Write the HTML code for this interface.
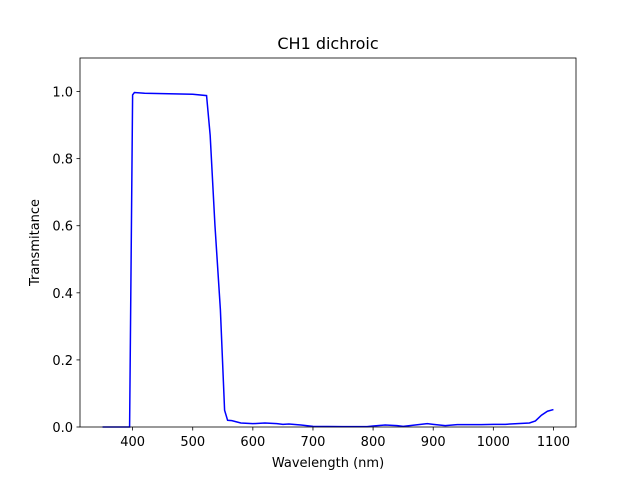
<!DOCTYPE html>
<html><head><meta charset="utf-8"><style>
body{margin:0;background:#fff;font-family:"Liberation Sans","DejaVu Sans",sans-serif;}
svg text{font-family:"DejaVu Sans","Liberation Sans",sans-serif;font-size:13px;fill:#000;}
</style></head><body>
<svg id="chart" width="640" height="480">
<rect width="640" height="480" fill="#fff"/>
<text x="328" y="49" text-anchor="middle" style="font-size:16px">CH1 dichroic</text>
<g id="ticks"></g>
<path id="line" fill="none" stroke="#0000ff" stroke-width="1.5"/>
<rect x="80" y="58" width="496" height="369" fill="none" stroke="#000" stroke-width="0.8"/>
<text x="328" y="467" text-anchor="middle">Wavelength (nm)</text>
<text transform="translate(39,242.5) rotate(-90)" text-anchor="middle">Transmitance</text>
</svg>
<script>
const wavelengths=[350,395,400,403,420,500,523,529,537,546,553,558,565,580,600,620,640,650,660,680,700,750,790,800,820,840,850,870,890,900,920,940,960,980,1000,1020,1040,1060,1070,1080,1090,1100];
const transmittance=[0,0,0.99,0.997,0.995,0.992,0.988,0.87,0.6,0.35,0.05,0.02,0.019,0.012,0.01,0.012,0.01,0.008,0.009,0.006,0.002,0.001,0.001,0.003,0.006,0.004,0.002,0.006,0.01,0.008,0.004,0.007,0.007,0.007,0.008,0.008,0.01,0.012,0.018,0.035,0.047,0.052];
const xTicks=[400,500,600,700,800,900,1000,1100];
const yTicks=[0,0.2,0.4,0.6,0.8,1.0];
const yTickLabels=["0.0","0.2","0.4","0.6","0.8","1.0"];
const X=v=>80+(v-312.5)/(1137.5-312.5)*496;
const Y=v=>427-v/1.1*369;
const NS="http://www.w3.org/2000/svg";
const g=document.getElementById('ticks');
function mk(t,a){const e=document.createElementNS(NS,t);for(const k in a)e.setAttribute(k,a[k]);g.appendChild(e);return e;}
xTicks.forEach(v=>{
 const l=mk('line',{x1:X(v),x2:X(v),y1:427,y2:430.5,stroke:'#000','stroke-width':0.8});
 
 
 const t=mk('text',{x:X(v),y:446,'text-anchor':'middle'});t.textContent=v;
 
 
});
yTicks.forEach((v,i)=>{
 const l=mk('line',{x1:76.5,x2:80,y1:Y(v),y2:Y(v),stroke:'#000','stroke-width':0.8});
 
 
 const t=mk('text',{x:73,y:Y(v)+5,'text-anchor':'end'});t.textContent=yTickLabels[i];
 
 
});
document.getElementById('line').setAttribute('d',wavelengths.map((w,i)=>(i?'L':'M')+X(w).toFixed(2)+','+Y(transmittance[i]).toFixed(2)).join(''));
</script>
</body></html>
